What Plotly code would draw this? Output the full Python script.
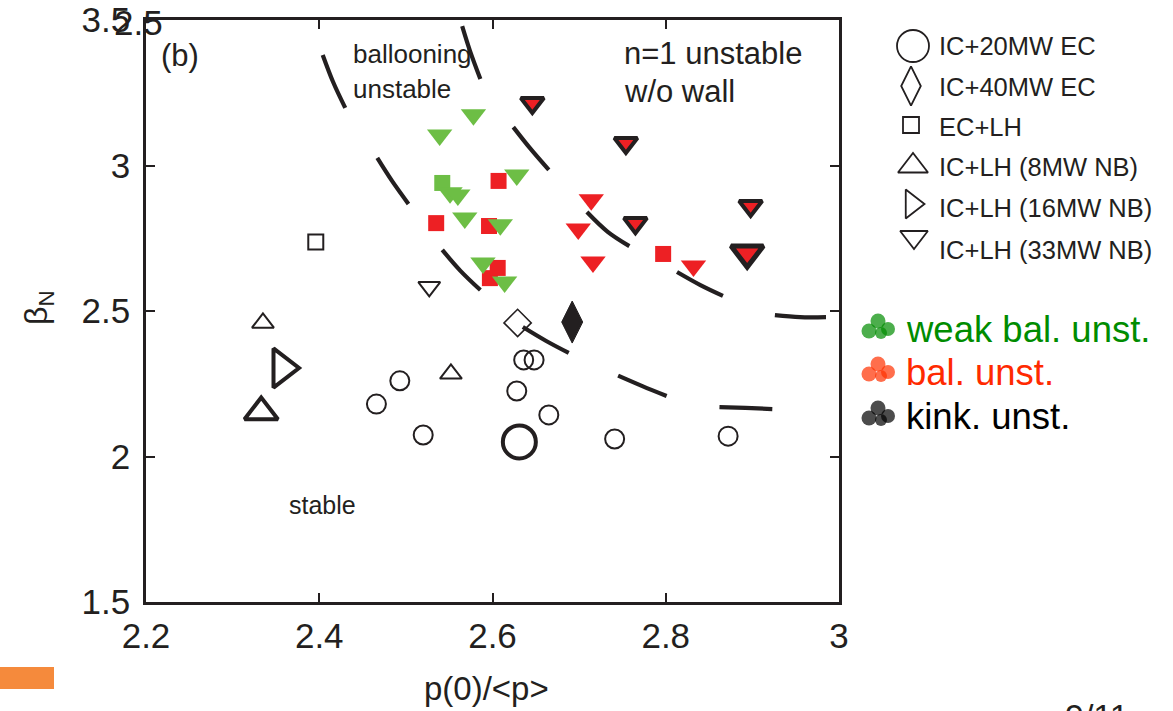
import plotly.graph_objects as go

W, H = 1173, 711

# ---------------- data ----------------
x_ticks = [2.2, 2.4, 2.6, 2.8, 3.0]
x_ticktext = ["2.2", "2.4", "2.6", "2.8", "3"]
y_ticks = [1.5, 2.0, 2.5, 3.0, 3.5]
y_ticktext = ["1.5", "2", "2.5", "3", "3.5"]

# IC+20MW EC (open circles)
circ_x = [2.466, 2.493, 2.520, 2.628, 2.636, 2.648, 2.665, 2.741, 2.872]
circ_y = [2.180, 2.260, 2.074, 2.225, 2.332, 2.332, 2.143, 2.060, 2.070]
bigcirc_x = [2.631]
bigcirc_y = [2.050]
# IC+40MW EC (diamonds)
diam_x = [2.629]
diam_y = [2.459]
diam_kink_x = [2.692]
diam_kink_y = [2.462]
# EC+LH (squares)
sq_open_x = [2.396]
sq_open_y = [2.737]
sq_red_x = [2.607, 2.535, 2.596, 2.597, 2.606, 2.797]
sq_red_y = [2.947, 2.802, 2.792, 2.613, 2.648, 2.696]
sq_green_x = [2.542]
sq_green_y = [2.940]
# IC+LH (8MW NB) (up triangles)
tri8_x = [2.335, 2.552]
tri8_y = [2.459, 2.284]
tri8big_x = [2.333]
tri8big_y = [2.153]
# IC+LH (16MW NB) (right triangle)
tri16_x = [2.357]
tri16_y = [2.304]
# IC+LH (33MW NB) (down triangles)
tri33_open_x = [2.527]
tri33_open_y = [2.583]
tri33_green_x = [2.578, 2.539, 2.628, 2.551, 2.560, 2.568, 2.609, 2.589, 2.614]
tri33_green_y = [3.174, 3.105, 2.967, 2.906, 2.899, 2.820, 2.796, 2.665, 2.600]
tri33_red_x = [2.714, 2.699, 2.716, 2.832]
tri33_red_y = [2.882, 2.782, 2.668, 2.655]
tri33_kink_x = [2.646, 2.754, 2.765, 2.898]
tri33_kink_y = [3.215, 3.077, 2.802, 2.861]
tri33_kinkbig_x = [2.894]
tri33_kinkbig_y = [2.699]

# dashed stability boundaries (visible dashes, None = gap)
curveA_x = [2.404, 2.416, 2.430, None, 2.467, 2.484, 2.503, None,
            2.542, 2.563, 2.586, None, 2.635, 2.662, 2.688, None,
            2.745, 2.773, 2.801, None, 2.862, 2.892, 2.923]
curveA_y = [3.380, 3.287, 3.198, None, 3.026, 2.947, 2.868, None,
            2.710, 2.638, 2.572, None, 2.445, 2.397, 2.356, None,
            2.278, 2.242, 2.208, None, 2.170, 2.167, 2.163]
curveB_x = [2.565, 2.574, 2.586, None, 2.624, 2.644, 2.665, None,
            2.709, 2.733, 2.758, None, 2.813, 2.840, 2.866, None,
            2.926, 2.955, 2.985]
curveB_y = [3.479, 3.394, 3.297, None, 3.132, 3.057, 2.985, None,
            2.840, 2.772, 2.723, None, 2.634, 2.589, 2.552, None,
            2.486, 2.479, 2.479]

legend_labels = ["IC+20MW EC", "IC+40MW EC", "EC+LH",
                 "IC+LH (8MW NB)", "IC+LH (16MW NB)", "IC+LH (33MW NB)"]
class_labels = ["weak bal. unst.", "bal. unst.", "kink. unst."]

# ---------------- styles ----------------
INK = "#231f20"
GREEN = "#6dbe45"
RED = "#ed2024"
TXT_GREEN = "#008c00"
TXT_RED = "#ff2a00"
FONT = "Liberation Sans, Arial, Helvetica, sans-serif"

def fx(p):
    return p / W

def fy(p):
    return 1 - p / H

fig = go.Figure()

# boundaries
for cx, cy in [(curveA_x, curveA_y), (curveB_x, curveB_y)]:
    fig.add_trace(go.Scatter(x=cx, y=cy, mode="lines",
                             line=dict(color=INK, width=4.2, shape="spline"),
                             connectgaps=False, hoverinfo="skip"))

def pts(x, y, symbol, size, color, lcolor, lwidth):
    fig.add_trace(go.Scatter(x=x, y=y, mode="markers", cliponaxis=False,
                             marker=dict(symbol=symbol, size=size, color=color,
                                         line=dict(color=lcolor, width=lwidth))))

pts(circ_x, circ_y, "circle-open", 19, INK, INK, 2)
pts(bigcirc_x, bigcirc_y, "circle-open", 33, INK, INK, 4)
pts(diam_x, diam_y, "diamond-open", 21, INK, INK, 1.6)
pts(diam_kink_x, diam_kink_y, "diamond-tall", 30, INK, INK, 1)
pts(sq_open_x, sq_open_y, "square-open", 15, INK, INK, 2)
pts(tri8_x, tri8_y, "triangle-up-open", 19, INK, INK, 2)
pts(tri8big_x, tri8big_y, "triangle-up-open", 29, INK, INK, 4)
pts(tri16_x, tri16_y, "triangle-right-open", 34, INK, INK, 4)
pts(tri33_open_x, tri33_open_y, "triangle-down-open", 19, INK, INK, 2)
pts(sq_red_x, sq_red_y, "square", 16, RED, RED, 0)
pts(sq_green_x, sq_green_y, "square", 16, GREEN, GREEN, 0)
pts(tri33_red_x, tri33_red_y, "triangle-down", 22, RED, RED, 0)
pts(tri33_green_x, tri33_green_y, "triangle-down", 22, GREEN, GREEN, 0)
pts(tri33_kink_x, tri33_kink_y, "triangle-down", 20, RED, INK, 4)
pts(tri33_kinkbig_x, tri33_kinkbig_y, "triangle-down", 28, RED, INK, 5)

# ---------------- manual legend on a pixel overlay ----------------
leg_sym = ["circle-open", "diamond-tall-open", "square-open",
           "triangle-up-open", "triangle-right-open", "triangle-down-open"]
leg_size = [32, 28, 16, 26, 25, 24]
leg_mx = [913, 911, 911, 913, 912, 914]
leg_my = [46, 86, 125, 166, 204, 237]
leg_ty = [46, 87, 127, 167, 208, 250]
for s, sz, mx, my in zip(leg_sym, leg_size, leg_mx, leg_my):
    fig.add_trace(go.Scatter(x=[mx], y=[my], xaxis="x2", yaxis="y2", mode="markers",
                             marker=dict(symbol=s, size=sz, color=INK,
                                         line=dict(color=INK, width=1.8)),
                             hoverinfo="skip"))

annots = []
for lab, ty in zip(legend_labels, leg_ty):
    annots.append(dict(text=lab, x=fx(937), y=fy(ty), xref="paper", yref="paper",
                       xanchor="left", yanchor="middle", showarrow=False,
                       font=dict(family=FONT, size=25.5, color=INK)))

# clover icons for the colour classes
cls_colors = [TXT_GREEN, TXT_RED, "#000000"]
cls_icon_col = ["#008c00", "#ff3000", "#000000"]
cls_y = [327, 370, 414]
lobe_dx = [-9, 0, 10, 3]
lobe_dy = [4, -6, 2, 6]
lobe_sz = [15, 15, 14, 12]
for col, cy, lab, tcol in zip(cls_icon_col, cls_y, class_labels, cls_colors):
    fig.add_trace(go.Scatter(x=[878 + d for d in lobe_dx], y=[cy + d for d in lobe_dy],
                             xaxis="x2", yaxis="y2", mode="markers",
                             marker=dict(symbol="circle", size=lobe_sz, color=col,
                                         line=dict(width=0)),
                             hoverinfo="skip"))
    annots.append(dict(text=lab, x=fx(904), y=fy(cy + 2), xref="paper", yref="paper",
                       xanchor="left", yanchor="middle", showarrow=False,
                       font=dict(family=FONT, size=36.5, color=tcol)))

# in-plot texts
def note(text, x, y, size, xanchor="left", angle=0):
    annots.append(dict(text=text, x=fx(x), y=fy(y), xref="paper", yref="paper",
                       xanchor=xanchor, yanchor="middle", showarrow=False,
                       textangle=angle, font=dict(family=FONT, size=size, color=INK)))

note("(b)", 180, 56, 31, "center")
note("ballooning", 351, 54, 26)
note("unstable", 351, 89, 26)
note("n=1 unstable", 622, 54, 31)
note("w/o wall", 622, 91, 31)
note("stable", 322, 505, 25, "center")
note("2.5", 138, 22, 35, "center")
note("β<sub>N</sub>", 38, 308, 32, "center", -90)
note("p(0)/&lt;p&gt;", 486, 688, 33, "center")
note("9/11", 1063, 716, 34)

fig.update_layout(
    template="none",
    width=W, height=H,
    margin=dict(l=0, r=0, t=0, b=0, pad=0, autoexpand=False),
    paper_bgcolor="white", plot_bgcolor="rgba(0,0,0,0)",
    showlegend=False,
    font=dict(family=FONT, color=INK),
    annotations=annots,
    shapes=[dict(type="rect", xref="paper", yref="paper",
                 x0=fx(0), x1=fx(54), y0=fy(689), y1=fy(667),
                 fillcolor="#f58a3c", line=dict(width=0))],
    xaxis=dict(domain=[146 / W, 839 / W], range=[2.2, 3.0], automargin=False,
               tickvals=x_ticks, ticktext=x_ticktext,
               showline=True, linecolor=INK, linewidth=2.6, mirror="ticks",
               ticks="inside", ticklen=9, tickwidth=2, tickcolor=INK,
               showgrid=False, zeroline=False, ticklabelstandoff=1,
               tickfont=dict(family=FONT, size=35, color=INK)),
    yaxis=dict(domain=[(H - 602) / H, (H - 20) / H], range=[1.5, 3.5], automargin=False,
               tickvals=y_ticks, ticktext=y_ticktext,
               showline=True, linecolor=INK, linewidth=2.6, mirror="ticks",
               ticks="inside", ticklen=9, tickwidth=2, tickcolor=INK,
               showgrid=False, zeroline=False, ticklabelstandoff=6,
               tickfont=dict(family=FONT, size=35, color=INK)),
    xaxis2=dict(domain=[0, 1], range=[0, W], visible=False, anchor="y2",
                fixedrange=True, automargin=False),
    yaxis2=dict(domain=[0, 1], range=[H, 0], visible=False, anchor="x2",
                fixedrange=True, automargin=False),
)

fig.write_html("out.html", config={"displayModeBar": False},
               post_script="document.body.style.margin='0';")
